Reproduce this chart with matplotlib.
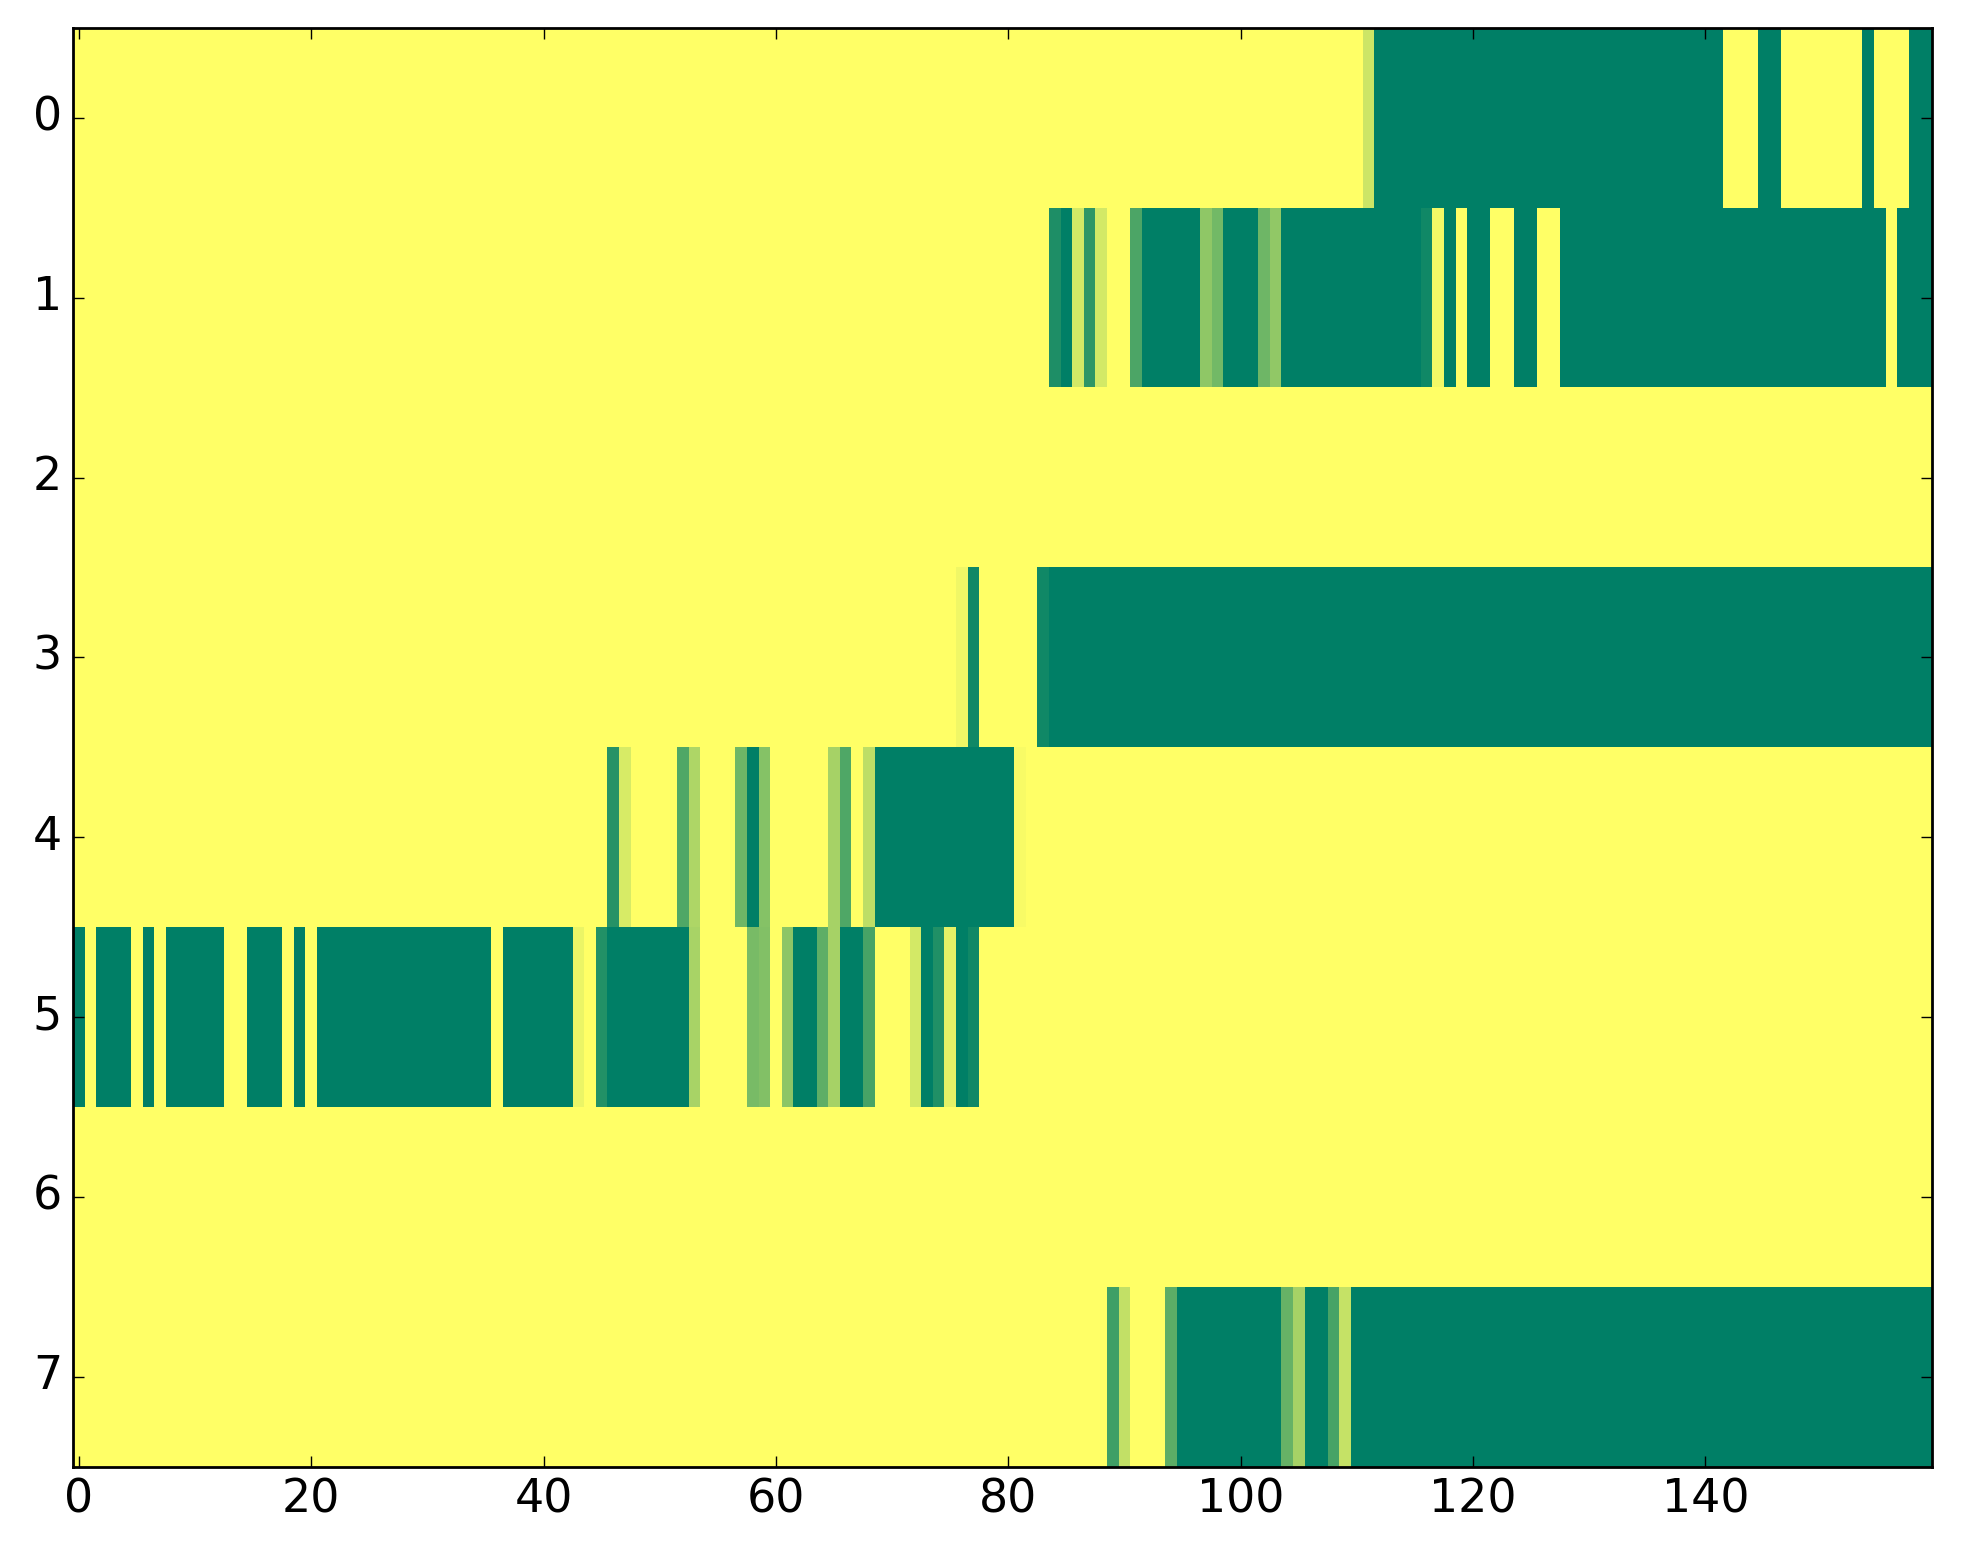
import numpy as np
import matplotlib
matplotlib.use('Agg')
import matplotlib.pyplot as plt

# each row is a list of (value, run length) read left to right, 160 columns
row_0 = [(0, 111), (0.2, 1), (1, 30), (0, 3), (1, 2), (0, 7), (1, 1), (0, 3), (1, 2)]
row_1 = [(0, 84), (0.88, 1), (1, 1), (0.17, 1), (0.82, 1), (0.17, 1), (0, 2), (0.7, 1),
         (1, 5), (0.44, 1), (0.55, 1), (1, 3), (0.57, 1), (0.43, 1), (1, 12), (0.93, 1),
         (0.05, 1), (1, 1), (0, 1), (1, 2), (0, 2), (1, 2), (0, 2), (1, 28), (0, 1), (1, 3)]
row_2 = [(0, 160)]
row_3 = [(0, 76), (0.06, 1), (0.93, 1), (0, 5), (0.93, 1), (1, 76)]
row_4 = [(0, 46), (0.85, 1), (0.16, 1), (0, 4), (0.69, 1), (0.32, 1), (0, 3), (0.57, 1),
         (1, 1), (0.48, 1), (0, 5), (0.35, 1), (0.69, 1), (0, 1), (0.26, 1), (1, 12),
         (0.03, 1), (0, 78)]
row_5 = [(1, 1), (0, 1), (1, 3), (0, 1), (1, 1), (0, 1), (1, 5), (0, 2), (1, 3), (0, 1),
         (1, 1), (0, 1), (1, 15), (0, 1), (1, 6), (0.08, 1), (0, 1), (0.86, 1), (1, 7),
         (0.34, 1), (0, 4), (0.53, 1), (0.49, 1), (0, 1), (0.45, 1), (1, 2), (0.63, 1),
         (0.35, 1), (1, 2), (0.72, 1), (0, 3), (0.17, 1), (1, 1), (0.87, 1), (0.1, 1),
         (1, 1), (0.93, 1), (0, 82)]
row_6 = [(0, 160)]
row_7 = [(0, 89), (0.75, 1), (0.24, 1), (0, 3), (0.64, 1), (1, 9), (0.6, 1), (0.35, 1),
         (1, 2), (0.72, 1), (0.23, 1), (1, 50)]

rows = [row_0, row_1, row_2, row_3, row_4, row_5, row_6, row_7]


def expand(runs):
    out = []
    for value, count in runs:
        out.extend([value] * count)
    return out


data = np.array([expand(r) for r in rows])

plt.style.use('classic')
fig = plt.figure(figsize=(1963 / 200, 1564 / 200), dpi=200)
ax = fig.add_axes([0.0372, 0.0623, 0.9469, 0.9197])
ax.imshow(data, cmap='summer_r', vmin=0, vmax=1, aspect='auto', interpolation='nearest')
ax.set_xticks(np.arange(0, 160, 20))
ax.set_yticks(np.arange(0, 8))
ax.tick_params(labelsize=16.5)

fig.savefig('out.png', dpi=200)
